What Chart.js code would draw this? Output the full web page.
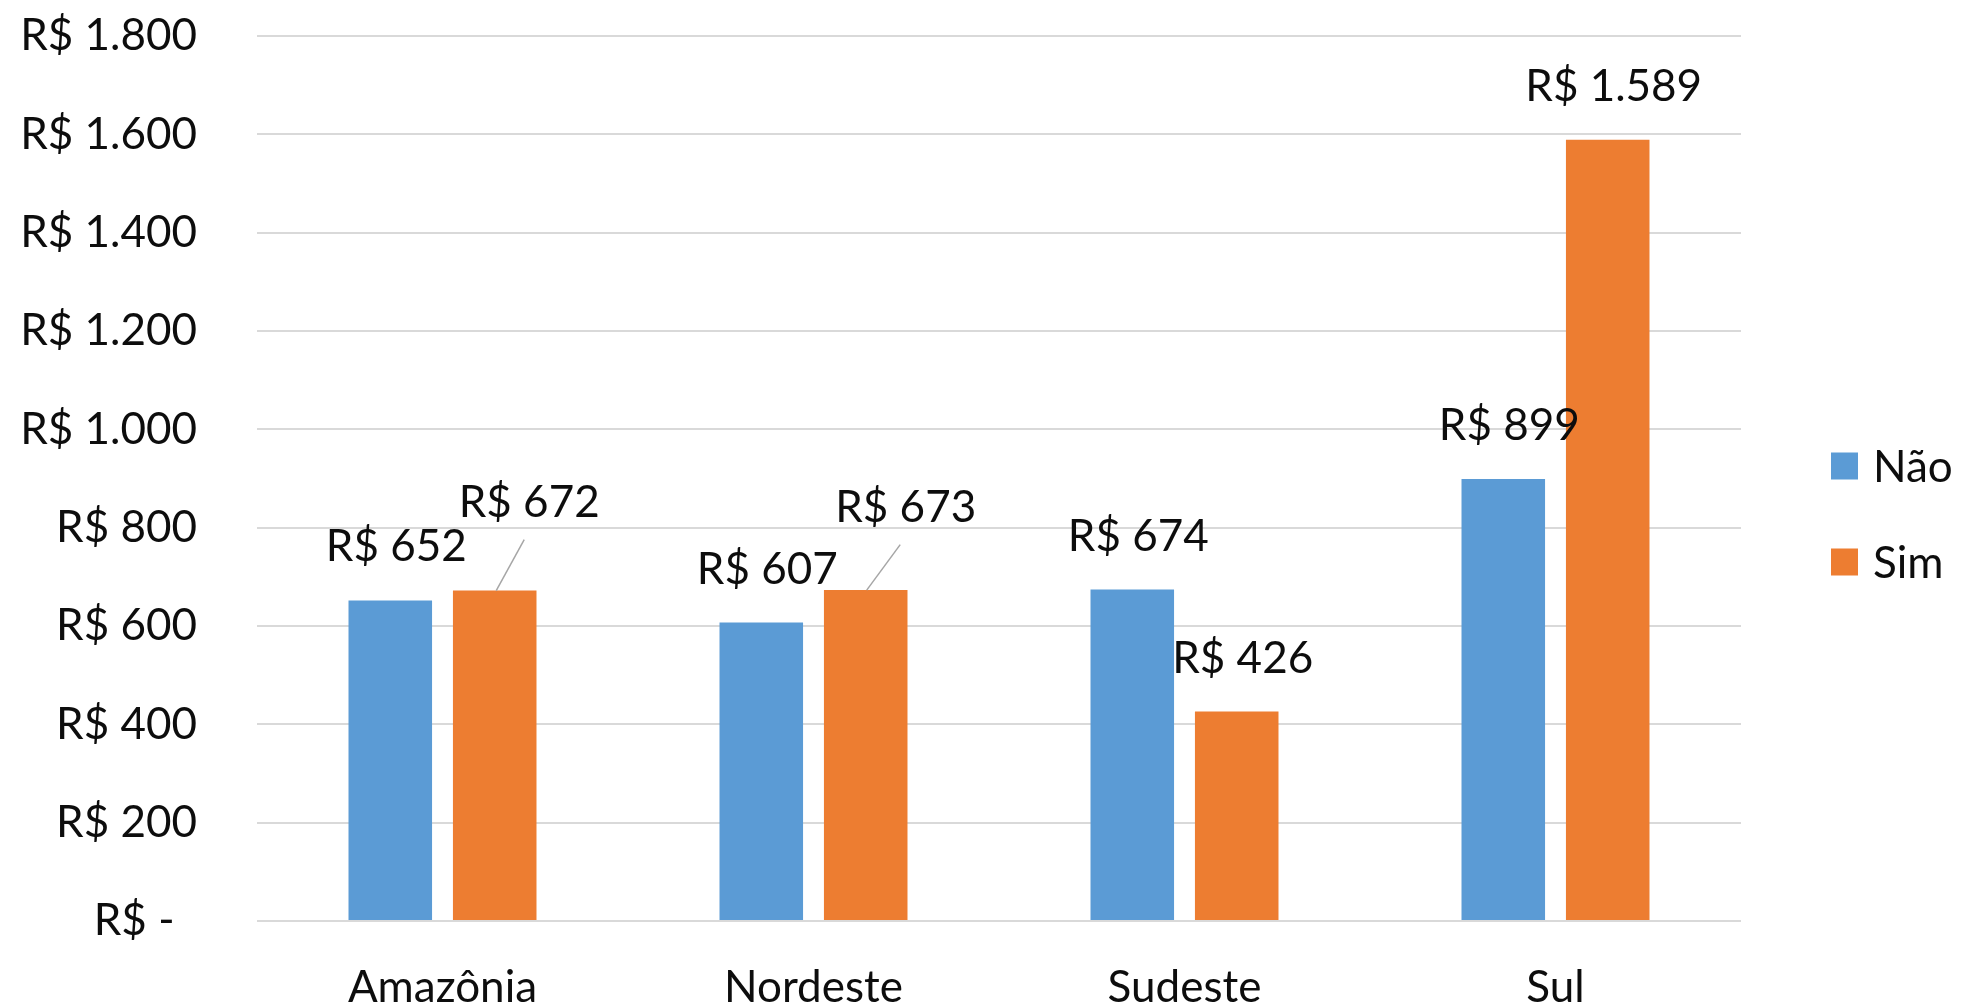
<!DOCTYPE html>
<html>
<head>
<meta charset="utf-8">
<script src="https://cdn.jsdelivr.net/npm/chart.js@4.4.1/dist/chart.umd.min.js"></script>
<style>
  html, body { margin: 0; padding: 0; background: #ffffff; }
  #wrap { width: 1961px; height: 1008px; position: relative; }
</style>
</head>
<body>
<div id="wrap"><canvas id="c"></canvas></div>
<script>
// ---- data ----
const categories = ['Amazônia', 'Nordeste', 'Sudeste', 'Sul'];
const seriesNames = ['Não', 'Sim'];
const naoValues = [652, 607, 674, 899];
const simValues = [672, 673, 426, 1589];
const yTicks = [0, 200, 400, 600, 800, 1000, 1200, 1400, 1600, 1800];

const FONT = 'Lato';
const FSIZE = 44;
const TEXT = '#0d0d0d';

function brl(v) {
  if (v === 0) return 'R$ -  ';
  return 'R$ ' + String(Math.round(v)).replace(/\B(?=(\d{3})+(?!\d))/g, '.');
}

// data labels (drawn from the bar elements' own positions)
const labelPlugin = {
  id: 'barLabels',
  afterDatasetsDraw(chart, args, opts) {
    const ctx = chart.ctx;
    ctx.save();
    ctx.font = FSIZE + 'px ' + FONT;
    ctx.fillStyle = TEXT;
    ctx.textAlign = 'center';
    ctx.textBaseline = 'alphabetic';
    chart.data.datasets.forEach((ds, di) => {
      const meta = chart.getDatasetMeta(di);
      meta.data.forEach((bar, i) => {
        const key = di + '-' + i;
        const o = opts.moved[key] || opts.normal;
        if (o.leader) {
          ctx.save();
          ctx.strokeStyle = '#a6a6a6';
          ctx.lineWidth = 1.5;
          ctx.beginPath();
          ctx.moveTo(bar.x + o.leader[0], bar.y + o.leader[1]);
          ctx.lineTo(bar.x + o.leader[2], bar.y + o.leader[3]);
          ctx.stroke();
          ctx.restore();
        }
        ctx.fillText(brl(ds.data[i]), bar.x + o.dx, bar.y + o.dy);
      });
    });
    ctx.restore();
  }
};

// legend drawn to the right of the plot area
const legendPlugin = {
  id: 'sideLegend',
  afterDraw(chart, args, opts) {
    const ctx = chart.ctx;
    const a = chart.chartArea;
    const midY = (a.top + a.bottom) / 2;
    ctx.save();
    ctx.font = FSIZE + 'px ' + FONT;
    ctx.textAlign = 'left';
    ctx.textBaseline = 'alphabetic';
    chart.data.datasets.forEach((ds, di) => {
      const cy = midY + opts.firstOffset + di * opts.spacing;
      const bx = a.right + opts.boxGap;
      ctx.fillStyle = ds.backgroundColor;
      ctx.fillRect(bx, cy - opts.box / 2, opts.box, opts.box);
      ctx.fillStyle = TEXT;
      ctx.fillText(ds.label, bx + opts.box + opts.textGap, cy + opts.baselineShift);
    });
    ctx.restore();
  }
};

const chart = new Chart(document.getElementById('c'), {
  type: 'bar',
  data: {
    labels: categories,
    datasets: [
      { label: seriesNames[0], data: naoValues, backgroundColor: '#5B9BD5', borderWidth: 0 },
      { label: seriesNames[1], data: simValues, backgroundColor: '#ED7D31', borderWidth: 0 }
    ]
  },
  plugins: [labelPlugin, legendPlugin],
  options: {
    responsive: true,
    maintainAspectRatio: false,
    animation: false,
    devicePixelRatio: 1,
    layout: { padding: { left: 0, right: 220, top: 36, bottom: 0 } },
    datasets: { bar: { categoryPercentage: 0.563, barPercentage: 0.8 } },
    scales: {
      x: {
        grid: { display: false, drawTicks: false },
        border: { display: false },
        ticks: { font: { family: FONT, size: FSIZE }, color: TEXT, padding: 40, maxRotation: 0 },
        afterFit(s) { s.height = 87; s.paddingLeft = 0; s.paddingRight = 0; }
      },
      y: {
        min: 0, max: 1800,
        afterBuildTicks(s) { s.ticks = yTicks.map(v => ({ value: v })); },
        grid: { color: '#d9d9d9', lineWidth: 2, drawTicks: false, tickLength: 0 },
        border: { display: false },
        ticks: {
          font: { family: FONT, size: FSIZE }, color: TEXT, padding: 60,
          callback: (v) => brl(v)
        },
        afterFit(s) { s.width = 257; s.paddingTop = 0; s.paddingBottom = 0; }
      }
    },
    plugins: {
      legend: { display: false },
      tooltip: { enabled: false },
      barLabels: {
        normal: { dx: 6, dy: -39 },
        moved: {
          '1-0': { dx: 34.5, dy: -74, leader: [1.5, 0, 29.5, -51] },
          '1-1': { dx: 40, dy: -68.5, leader: [1, 0, 34.5, -45.5] }
        }
      },
      sideLegend: { boxGap: 90, box: 27, textGap: 15, firstOffset: -12.5, spacing: 96, baselineShift: 15.5 }
    }
  }
});
</script>
</body>
</html>
